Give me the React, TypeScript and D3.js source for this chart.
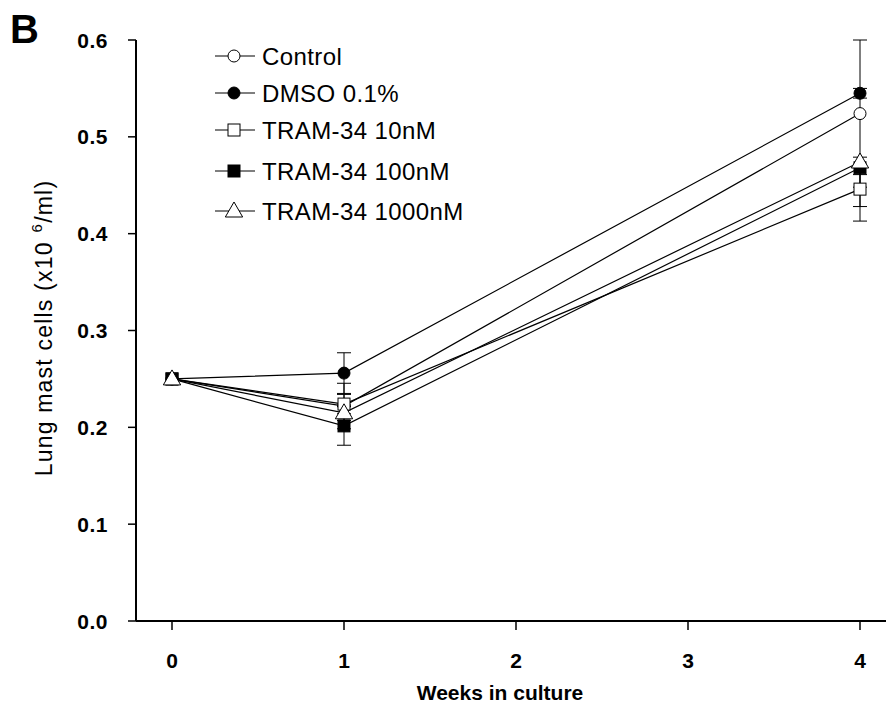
import React from "react";
import * as d3 from "d3";

const weeks = [0, 1, 4];

const seriesNames = [
  "Control",
  "DMSO 0.1%",
  "TRAM-34 10nM",
  "TRAM-34 100nM",
  "TRAM-34 1000nM",
];
const markers = ["circleOpen", "circleFilled", "squareOpen", "squareFilled", "triangleOpen"];

const control = [0.25, 0.222, 0.524];
const dmso = [0.25, 0.256, 0.545];
const tram10 = [0.25, 0.224, 0.446];
const tram100 = [0.25, 0.2015, 0.468];
const tram1000 = [0.25, 0.215, 0.474];

// error bars, below and above the mean
const controlLow = [0, 0.0235, 0.076];
const controlHigh = [0, 0.0235, 0.076];
const dmsoLow = [0, 0.021, 0.005];
const dmsoHigh = [0, 0.021, 0.005];
const tram10Low = [0, 0.01, 0.033];
const tram10High = [0, 0.01, 0.033];
const tram100Low = [0, 0.02, 0.04];
const tram100High = [0, 0.02, 0];
const tram1000Low = [0, 0.008, 0.013];
const tram1000High = [0, 0.008, 0];

const yTicks = [0, 0.1, 0.2, 0.3, 0.4, 0.5, 0.6];
const xTicks = [0, 1, 2, 3, 4];

const values = [control, dmso, tram10, tram100, tram1000];
const lows = [controlLow, dmsoLow, tram10Low, tram100Low, tram1000Low];
const highs = [controlHigh, dmsoHigh, tram10High, tram100High, tram1000High];

const W = 886;
const H = 708;
const left = 136;
const right = 886;
const top = 40;
const bottom = 621;

const font = "Arial, 'Liberation Sans', sans-serif";

const Marker = ({ type, x, y }: { type: string; x: number; y: number }) => {
  const fill = type.endsWith("Filled") ? "#000" : "#fff";
  if (type.startsWith("circle")) {
    return <circle cx={x} cy={y} r={6} fill={fill} stroke="#000" strokeWidth={1} />;
  }
  if (type.startsWith("square")) {
    return <rect x={x - 6} y={y - 6} width={12} height={12} fill={fill} stroke="#000" strokeWidth={1} />;
  }
  const s = d3.symbol().type(d3.symbolTriangle).size(130)();
  return <path d={s || ""} transform={`translate(${x},${y + 1})`} fill={fill} stroke="#000" strokeWidth={1} />;
};

export default function App() {
  const xScale = d3.scaleLinear().domain([0, 4]).range([172, 860]);
  const yScale = d3.scaleLinear().domain([0, 0.6]).range([bottom, top]);

  const line = d3
    .line<number>()
    .x((d, i) => xScale(weeks[i]))
    .y((d) => yScale(d));

  const legendRows = [56, 93, 130, 171, 211];

  return (
    <svg width={W} height={H} style={{ position: "absolute", left: 0, top: 0, background: "#fff" }}>
      <rect width={W} height={H} fill="#fff" />
      <text x={10} y={43} fontFamily={font} fontWeight="bold" fontSize={40}>
        B
      </text>

      {/* axes */}
      <line x1={left} x2={left} y1={top} y2={bottom} stroke="#000" strokeWidth={2} />
      <line x1={left} x2={right} y1={bottom} y2={bottom} stroke="#000" strokeWidth={2} />
      {yTicks.map((t) => (
        <g key={t}>
          <line x1={left - 8} x2={left} y1={yScale(t)} y2={yScale(t)} stroke="#000" strokeWidth={1.5} />
          <text
            x={108}
            y={yScale(t) + 7.5}
            textAnchor="end"
            fontFamily={font}
            fontWeight="bold"
            fontSize={21}
            letterSpacing={0.5}
          >
            {t.toFixed(1)}
          </text>
        </g>
      ))}
      {xTicks.map((t) => (
        <g key={t}>
          <line x1={xScale(t)} x2={xScale(t)} y1={bottom} y2={bottom + 9} stroke="#000" strokeWidth={1.5} />
          <text
            x={xScale(t)}
            y={668}
            textAnchor="middle"
            fontFamily={font}
            fontWeight="bold"
            fontSize={21}
          >
            {t}
          </text>
        </g>
      ))}
      <text x={500} y={700} textAnchor="middle" fontFamily={font} fontWeight="bold" fontSize={21}>
        Weeks in culture
      </text>
      <text
        transform={`translate(52,328) rotate(-90)`}
        textAnchor="middle"
        fontFamily={font}
        fontSize={23}
        letterSpacing={1.2}
      >
        Lung mast cells (x10
        <tspan dy={-10} fontSize={15} dx={9}>
          6
        </tspan>
        <tspan dy={10}>/ml)</tspan>
      </text>

      {/* lines */}
      {values.map((v, k) => (
        <path key={k} d={line(v) || ""} fill="none" stroke="#000" strokeWidth={1.2} />
      ))}

      {/* error bars */}
      {values.map((v, k) =>
        v.map((d, i) => {
          const x = xScale(weeks[i]);
          const lo = yScale(d - lows[k][i]);
          const hi = yScale(d + highs[k][i]);
          if (lows[k][i] === 0 && highs[k][i] === 0) return null;
          return (
            <g key={`${k}-${i}`} stroke="#000" strokeWidth={1}>
              <line x1={x} x2={x} y1={hi} y2={lo} />
              {highs[k][i] > 0 && <line x1={x - 7} x2={x + 7} y1={hi} y2={hi} />}
              {lows[k][i] > 0 && <line x1={x - 7} x2={x + 7} y1={lo} y2={lo} />}
            </g>
          );
        })
      )}

      {/* markers */}
      {values.map((v, k) =>
        v.map((d, i) => <Marker key={`${k}-${i}`} type={markers[k]} x={xScale(weeks[i])} y={yScale(d)} />)
      )}

      {/* legend */}
      {seriesNames.map((name, k) => (
        <g key={name}>
          <line x1={215} x2={255} y1={legendRows[k]} y2={legendRows[k]} stroke="#000" strokeWidth={1.2} />
          <Marker type={markers[k]} x={234} y={legendRows[k]} />
          <text x={262} y={legendRows[k] + 8.5} fontFamily={font} fontSize={24} letterSpacing={0.4}>
            {name}
          </text>
        </g>
      ))}
    </svg>
  );
}
